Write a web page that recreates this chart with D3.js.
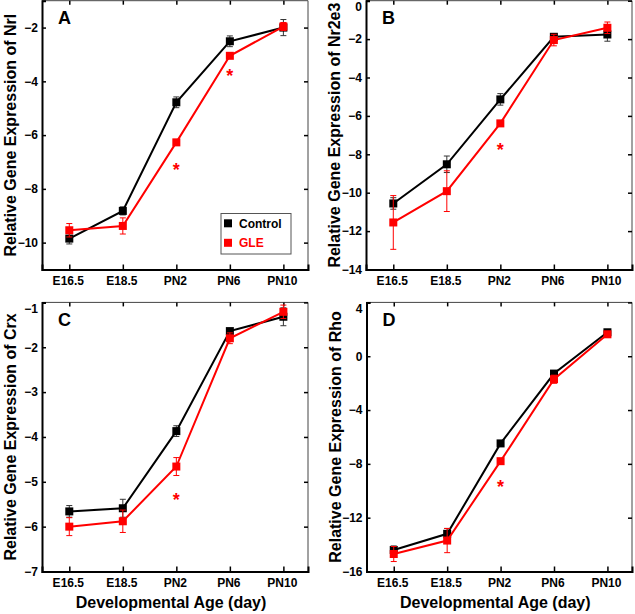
<!DOCTYPE html>
<html><head><meta charset="utf-8">
<script src="https://cdn.jsdelivr.net/npm/d3@7"></script>
<style>
body{margin:0;background:#fff;}
svg{display:block;font-family:"Liberation Sans",Arial,sans-serif;font-weight:bold;}
</style></head>
<body>
<svg id="chart" width="635" height="614"></svg>
<script>
const categories = ["E16.5","E18.5","PN2","PN6","PN10"];

// Panel A: Nrl
const nrlControl = [-9.85, -8.82, -4.78, -2.51, -2.0];
const nrlControlErr = [0.2, 0.15, 0.2, 0.2, 0.3];
const nrlGLE = [-9.54, -9.38, -6.27, -3.05, -1.96];
const nrlGLEErr = [0.25, 0.3, 0.1, 0.1, 0.15];
const nrlStars = [null, null, -7.15, -3.64, null];
const nrlTicks = [-10, -8, -6, -4, -2];

// Panel B: Nr2e3
const nr2e3Control = [-10.56, -8.52, -5.14, -1.88, -1.76];
const nr2e3ControlErr = [0.3, 0.43, 0.3, 0.1, 0.35];
const nr2e3GLE = [-11.55, -9.92, -6.39, -2.05, -1.41];
const nr2e3GLEErr = [1.4, 1.06, 0.1, 0.3, 0.3];
const nr2e3Stars = [null, null, -7.56, null, null];
const nr2e3Ticks = [-14, -12, -10, -8, -6, -4, -2, 0];

// Panel C: Crx
const crxControl = [-5.66, -5.59, -3.87, -1.64, -1.32];
const crxControlErr = [0.13, 0.2, 0.12, 0.05, 0.2];
const crxGLE = [-6.0, -5.88, -4.66, -1.8, -1.21];
const crxGLEErr = [0.2, 0.25, 0.2, 0.12, 0.15];
const crxStars = [null, null, -5.31, null, null];
const crxTicks = [-7, -6, -5, -4, -3, -2, -1];

// Panel D: Rho
const rhoControl = [-14.4, -13.2, -6.48, -1.29, 1.78];
const rhoControlErr = [0.3, 0.4, 0.2, 0.2, 0.2];
const rhoGLE = [-14.7, -13.7, -7.8, -1.71, 1.63];
const rhoGLEErr = [0.56, 0.9, 0.2, 0.3, 0.15];
const rhoStars = [null, null, -9.45, null, null];
const rhoTicks = [-16, -12, -8, -4, 0, 4];

const seriesNames = ["Control", "GLE"];
const seriesColors = ["#000000", "#ff0000"];
const xTitle = "Developmental Age (day)";

const panels = [
  {letter:"A", gene:"Nrl", domain:[-11,-1], ticks:nrlTicks, ctrl:nrlControl, ctrlErr:nrlControlErr, gle:nrlGLE, gleErr:nrlGLEErr, stars:nrlStars,
   box:{l:42, r:308, t:0.7, b:269.5}, legend:true, xlabels:false},
  {letter:"B", gene:"Nr2e3", domain:[-14,0], ticks:nr2e3Ticks, ctrl:nr2e3Control, ctrlErr:nr2e3ControlErr, gle:nr2e3GLE, gleErr:nr2e3GLEErr, stars:nr2e3Stars,
   box:{l:366, r:632, t:0.7, b:269.5}, legend:false, xlabels:false},
  {letter:"C", gene:"Crx", domain:[-7,-1], ticks:crxTicks, ctrl:crxControl, ctrlErr:crxControlErr, gle:crxGLE, gleErr:crxGLEErr, stars:crxStars,
   box:{l:42, r:308, t:302.4, b:571.5}, legend:false, xlabels:true},
  {letter:"D", gene:"Rho", domain:[-16,4], ticks:rhoTicks, ctrl:rhoControl, ctrlErr:rhoControlErr, gle:rhoGLE, gleErr:rhoGLEErr, stars:rhoStars,
   box:{l:366.5, r:632, t:302.4, b:571.5}, legend:false, xlabels:true}
];

const svg = d3.select("#chart");

panels.forEach(p => {
  const B = p.box;
  const x = d3.scaleLinear().domain([-0.51, 4.46]).range([B.l, B.r]);
  const y = d3.scaleLinear().domain(p.domain).range([B.b, B.t]);
  const g = svg.append("g");

  // frame: top/right thin
  g.append("line").attr("x1",B.l).attr("x2",B.r).attr("y1",B.t).attr("y2",B.t).attr("stroke","#444").attr("stroke-width",1);
  g.append("line").attr("x1",B.r).attr("x2",B.r).attr("y1",B.t).attr("y2",B.b).attr("stroke","#444").attr("stroke-width",1);

  // left axis (ticks inward)
  const yAxis = d3.axisLeft(y).tickValues(p.ticks).tickSize(-4).tickPadding(4).tickFormat(d3.format("d"));
  const ya = g.append("g").attr("transform",`translate(${B.l},0)`).call(yAxis);
  ya.select(".domain").attr("stroke","#000").attr("stroke-width",2);
  ya.selectAll(".tick line").attr("stroke","#000").attr("stroke-width",1.5);
  ya.selectAll(".tick text").attr("font-size",12).attr("font-weight","bold").attr("fill","#000")
    .attr("font-family",'"Liberation Sans",Arial,sans-serif')
    .attr("dy", d => (d === p.domain[1] ? "0.82em" : "0.32em"));

  // right ticks
  const yr = d3.axisRight(y).tickValues(p.ticks).tickSize(-4).tickFormat("");
  const yra = g.append("g").attr("transform",`translate(${B.r},0)`).call(yr);
  yra.select(".domain").remove();
  yra.selectAll(".tick line").attr("stroke","#000").attr("stroke-width",1.5);

  // top ticks
  const xt = d3.axisTop(x).tickValues(d3.range(categories.length)).tickSize(-4).tickFormat("");
  const xta = g.append("g").attr("transform",`translate(0,${B.t})`).call(xt);
  xta.select(".domain").remove();
  xta.selectAll(".tick line").attr("stroke","#000").attr("stroke-width",1.5);

  // bottom axis
  const xAxis = d3.axisBottom(x).tickValues(d3.range(categories.length)).tickSize(-5).tickPadding(6.5)
    .tickFormat(i => categories[i]);
  const xa = g.append("g").attr("transform",`translate(0,${B.b})`).call(xAxis);
  xa.select(".domain").attr("stroke","#000").attr("stroke-width",2);
  xa.selectAll(".tick line").attr("stroke","#000").attr("stroke-width",1.5);
  xa.selectAll(".tick text").attr("font-size",12).attr("font-weight","bold").attr("fill","#000")
    .attr("font-family",'"Liberation Sans",Arial,sans-serif').attr("dx",-1.5);

  // y title
  const cy = (B.t + B.b)/2;
  const tx = B.l - 26;
  g.append("text").attr("transform",`translate(${tx},${cy}) rotate(-90)`)
    .attr("text-anchor","middle").attr("font-size",16).attr("fill","#000")
    .text("Relative Gene Expression of " + p.gene);

  // x title
  if (p.xlabels) {
    g.append("text").attr("x",(B.l+B.r)/2 - 4).attr("y",608).attr("text-anchor","middle")
      .attr("font-size",16).attr("fill","#000").text(xTitle);
  }

  // panel letter
  g.append("text").attr("x",B.l+16).attr("y",B.t+23.5).attr("font-size",18).attr("fill","#000").text(p.letter);

  // series
  const series = [
    {vals:p.ctrl, err:p.ctrlErr, color:seriesColors[0]},
    {vals:p.gle, err:p.gleErr, color:seriesColors[1]}
  ];
  series.forEach(s => {
    const pts = s.vals.map((v,i)=>({i, v, e:s.err[i]}));
    const eb = g.append("g").attr("stroke", s.color === "#000000" ? "#333" : s.color).attr("stroke-width",1);
    pts.forEach(d => {
      eb.append("line").attr("x1",x(d.i)).attr("x2",x(d.i)).attr("y1",y(d.v+d.e)).attr("y2",y(d.v-d.e));
      eb.append("line").attr("x1",x(d.i)-3).attr("x2",x(d.i)+3).attr("y1",y(d.v+d.e)).attr("y2",y(d.v+d.e));
      eb.append("line").attr("x1",x(d.i)-3).attr("x2",x(d.i)+3).attr("y1",y(d.v-d.e)).attr("y2",y(d.v-d.e));
    });
    g.append("path").datum(pts)
      .attr("d", d3.line().x(d=>x(d.i)).y(d=>y(d.v)))
      .attr("fill","none").attr("stroke",s.color).attr("stroke-width",2);
    g.selectAll(null).data(pts).enter().append("rect")
      .attr("x",d=>x(d.i)-4).attr("y",d=>y(d.v)-4).attr("width",8).attr("height",8)
      .attr("fill",s.color);
  });

  // significance stars
  p.stars.forEach((v,i) => {
    if (v === null) return;
    g.append("text").attr("x",x(i)).attr("y",y(v)+10).attr("text-anchor","middle")
      .attr("font-size",18).attr("fill","#ff0000").text("*");
  });

  // legend
  if (p.legend) {
    const lg = g.append("g");
    lg.append("rect").attr("x",221).attr("y",213.5).attr("width",70).attr("height",40.5)
      .attr("fill","#fff").attr("stroke","#555").attr("stroke-width",1);
    seriesNames.forEach((n,k) => {
      const yy = 223.3 + k*19.5;
      lg.append("rect").attr("x",224).attr("y",yy-4).attr("width",8).attr("height",8).attr("fill",seriesColors[k]);
      lg.append("text").attr("x",239).attr("y",yy+4.3).attr("font-size",12)
        .attr("fill",seriesColors[k]).text(n);
    });
  }
});
</script>
</body></html>
